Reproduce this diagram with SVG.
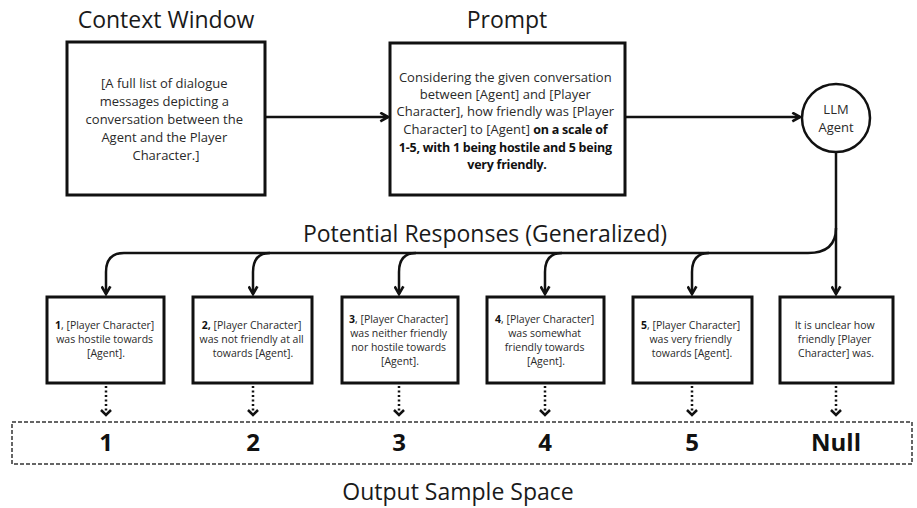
<svg xmlns="http://www.w3.org/2000/svg" width="917" height="508" viewBox="0 0 917 508">
  <defs>
    <style>
      .box { fill: #ffffff; stroke: #111111; stroke-width: 3; }
      .title { font-family: "Open Sans", "Noto Sans", sans-serif; font-size: 23px; fill: #1a1a1a; text-anchor: middle; }
      .body { font-family: "Open Sans", "Noto Sans", sans-serif; font-size: 13px; fill: #2a2a2a; text-anchor: middle; }
      .small { font-family: "Open Sans", "Noto Sans", sans-serif; font-size: 10.5px; fill: #2a2a2a; text-anchor: middle; }
      .num { font-family: "Open Sans", "Noto Sans", sans-serif; font-size: 24px; font-weight: bold; fill: #111111; text-anchor: middle; }
      .b { font-weight: bold; fill: #111111; }
      .bb { font-weight: bold; fill: #111111; font-size: 12.5px; letter-spacing: -0.25px; }
      .wire { fill: none; stroke: #111111; stroke-width: 2.5; }
      .dots { fill: none; stroke: #111111; stroke-width: 2.5; stroke-dasharray: 2 2.5; }
      .space { fill: none; stroke: #333333; stroke-width: 1.5; stroke-dasharray: 4 2; }
    </style>
    <marker id="arrow" viewBox="0 0 10 10" refX="8" refY="5" markerWidth="11" markerHeight="11" markerUnits="userSpaceOnUse" orient="auto">
      <path d="M1,1 L8,5 L1,9" fill="none" stroke="#111111" stroke-width="2.4"/>
    </marker>
  </defs>
  <rect width="917" height="508" fill="#ffffff"/>

  <!-- headings -->
  <text class="title" x="166" y="28">Context Window</text>
  <text class="title" x="507" y="28">Prompt</text>
  <text class="title" x="485" y="242">Potential Responses (Generalized)</text>
  <text class="title" x="458" y="500">Output Sample Space</text>

  <g id="context">
    <rect class="box" x="67" y="42" width="198" height="153"/>
    <text class="body" x="166">
      <tspan x="166" y="88">[A full list of dialogue</tspan>
      <tspan x="166" y="106">messages depicting a</tspan>
      <tspan x="166" y="124">conversation between the</tspan>
      <tspan x="166" y="142">Agent and the Player</tspan>
      <tspan x="166" y="160">Character.]</tspan>
    </text>
  </g>

  <g id="prompt">
    <rect class="box" x="390" y="43" width="235" height="152"/>
    <text class="body" x="507">
      <tspan x="507" y="82">Considering the given conversation</tspan>
      <tspan x="507" y="99">between [Agent] and [Player</tspan>
      <tspan x="507" y="116">Character], how friendly was [Player</tspan>
      <tspan x="507" y="134">Character] to [Agent] <tspan class="bb">on a scale of</tspan></tspan>
      <tspan x="507" y="152" class="bb">1-5, with 1 being hostile and 5 being</tspan>
      <tspan x="507" y="169" class="bb">very friendly.</tspan>
    </text>
  </g>

  <g id="llm">
    <circle cx="836" cy="118" r="34" fill="#ffffff" stroke="#111111" stroke-width="2.5"/>
    <text class="body" x="836" y="114">LLM</text>
    <text class="body" x="836" y="132">Agent</text>
  </g>

  <g id="r1">
    <rect class="box" x="47" y="297" width="117" height="86"/>
    <text class="small">
      <tspan x="106" y="329"><tspan class="b">1</tspan>, [Player Character]</tspan>
      <tspan x="106" y="343">was hostile towards</tspan>
      <tspan x="106" y="357">[Agent].</tspan>
    </text>
  </g>
  <g id="r2">
    <rect class="box" x="193" y="297" width="119" height="86"/>
    <text class="small">
      <tspan x="253" y="329"><tspan class="b">2,</tspan> [Player Character]</tspan>
      <tspan x="253" y="343">was not friendly at all</tspan>
      <tspan x="253" y="357">towards [Agent].</tspan>
    </text>
  </g>
  <g id="r3">
    <rect class="box" x="342" y="297" width="116" height="86"/>
    <text class="small">
      <tspan x="400" y="323"><tspan class="b">3</tspan>, [Player Character]</tspan>
      <tspan x="400" y="337">was neither friendly</tspan>
      <tspan x="400" y="351">nor hostile towards</tspan>
      <tspan x="400" y="365">[Agent].</tspan>
    </text>
  </g>
  <g id="r4">
    <rect class="box" x="487" y="297" width="117" height="86"/>
    <text class="small">
      <tspan x="546" y="323"><tspan class="b">4</tspan>, [Player Character]</tspan>
      <tspan x="546" y="337">was somewhat</tspan>
      <tspan x="546" y="351">friendly towards</tspan>
      <tspan x="546" y="365">[Agent].</tspan>
    </text>
  </g>
  <g id="r5">
    <rect class="box" x="633" y="297" width="119" height="86"/>
    <text class="small">
      <tspan x="692" y="329"><tspan class="b">5</tspan>, [Player Character]</tspan>
      <tspan x="692" y="343">was very friendly</tspan>
      <tspan x="692" y="357">towards [Agent].</tspan>
    </text>
  </g>
  <g id="rnull">
    <rect class="box" x="780" y="297" width="113" height="86"/>
    <text class="small">
      <tspan x="836" y="329">It is unclear how</tspan>
      <tspan x="836" y="343">friendly [Player</tspan>
      <tspan x="836" y="357">Character] was.</tspan>
    </text>
  </g>

  <g id="output-space">
    <rect class="space" x="12" y="422" width="900" height="42"/>
    <text class="num" x="106" y="451">1</text>
    <text class="num" x="253" y="451">2</text>
    <text class="num" x="399" y="451">3</text>
    <text class="num" x="545" y="451">4</text>
    <text class="num" x="692" y="451">5</text>
    <text class="num" x="836" y="451">Null</text>
  </g>

  <g id="connectors">
    <path class="wire" d="M265,117 H388" marker-end="url(#arrow)"/>
    <path class="wire" d="M625,117 H800" marker-end="url(#arrow)"/>
    <path class="wire" d="M836,152 V294" marker-end="url(#arrow)"/>
    <path class="wire" d="M836,228 Q836,253 808,253 H124 Q106,253 106,272 V294" marker-end="url(#arrow)"/>
    <path class="wire" d="M270,253 Q253,253 253,272 V294" marker-end="url(#arrow)"/>
    <path class="wire" d="M416,253 Q399,253 399,272 V294" marker-end="url(#arrow)"/>
    <path class="wire" d="M562,253 Q545,253 545,272 V294" marker-end="url(#arrow)"/>
    <path class="wire" d="M709,253 Q692,253 692,272 V294" marker-end="url(#arrow)"/>

    <path class="dots" d="M106,386 V413"/>
    <path class="dots" d="M253,386 V413"/>
    <path class="dots" d="M399,386 V413"/>
    <path class="dots" d="M545,386 V413"/>
    <path class="dots" d="M692,386 V413"/>
    <path class="dots" d="M836,386 V413"/>
    <path class="wire" d="M101,410 L106,415 L111,410 M248,410 L253,415 L258,410 M394,410 L399,415 L404,410 M540,410 L545,415 L550,410 M687,410 L692,415 L697,410 M831,410 L836,415 L841,410"/>
  </g>
</svg>
